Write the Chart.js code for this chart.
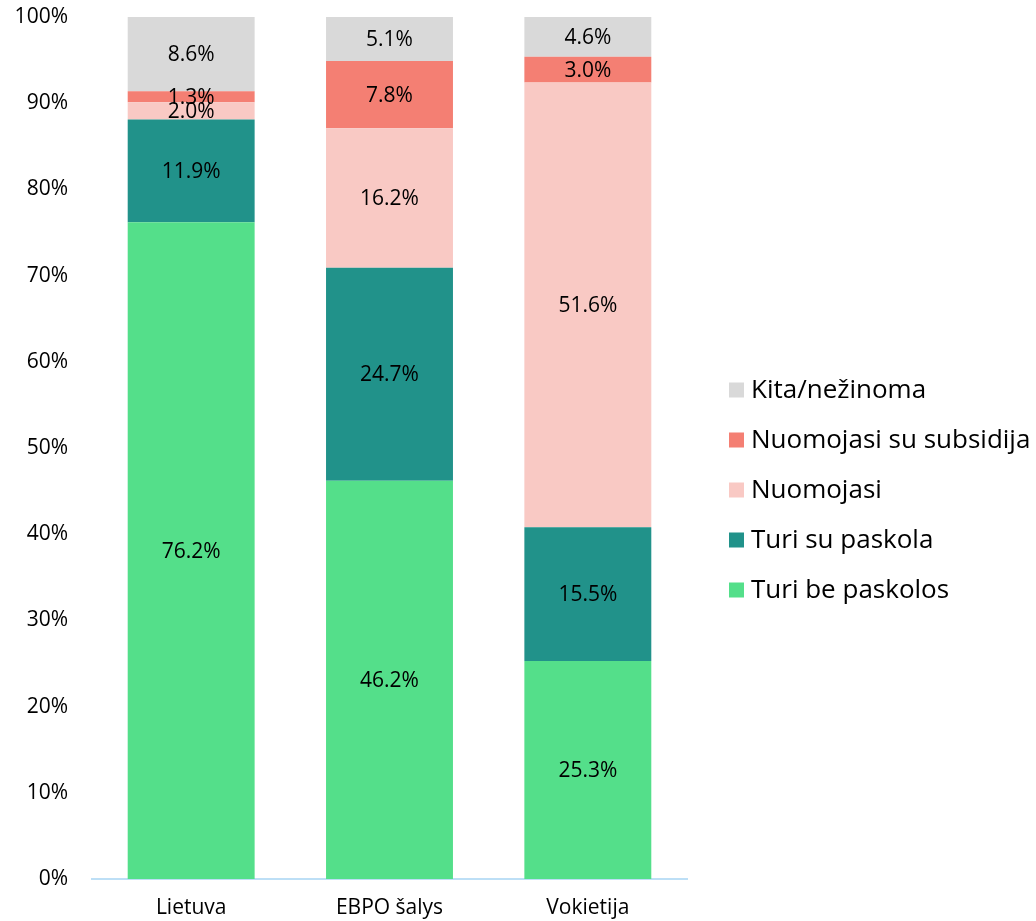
<!DOCTYPE html>
<html>
<head>
<meta charset="utf-8">
<script src="https://cdn.jsdelivr.net/npm/chart.js@4/dist/chart.umd.min.js"></script>
<style>
  html, body { margin: 0; padding: 0; background: #fff; }
  #wrap { width: 1036px; height: 921px; position: relative; }
</style>
</head>
<body>
<div id="wrap"><canvas id="chart"></canvas></div>
<script>
// Kategorijos ir reikšmės (%)
const categories = ['Lietuva', 'EBPO šalys', 'Vokietija'];
const seriesNames = ['Turi be paskolos', 'Turi su paskola', 'Nuomojasi', 'Nuomojasi su subsidija', 'Kita/nežinoma'];
const turiBePaskolos = [76.2, 46.2, 25.3];
const turiSuPaskola = [11.9, 24.7, 15.5];
const nuomojasi = [2.0, 16.2, 51.6];
const nuomojasiSuSubsidija = [1.3, 7.8, 3.0];
const kita = [8.6, 5.1, 4.6];
const colors = ['#54DF8A', '#21928A', '#F9C9C4', '#F47F73', '#D9D9D9'];

const FONT = "'Open Sans', 'Liberation Sans', Arial, sans-serif";
const allData = [turiBePaskolos, turiSuPaskola, nuomojasi, nuomojasiSuSubsidija, kita];

// Užrašai segmentų viduryje
const barLabels = {
  id: 'barLabels',
  afterDatasetsDraw(chart) {
    const ctx = chart.ctx;
    ctx.save();
    ctx.font = '21px ' + FONT;
    ctx.fillStyle = '#000';
    ctx.textAlign = 'center';
    ctx.textBaseline = 'middle';
    chart.data.datasets.forEach((ds, i) => {
      const meta = chart.getDatasetMeta(i);
      meta.data.forEach((bar, j) => {
        const y = (bar.y + bar.base) / 2;
        ctx.fillText(ds.data[j].toFixed(1) + '%', bar.x, y + 1);
      });
    });
    ctx.restore();
  }
};

// Legenda dešinėje (atvirkštine tvarka)
const sideLegend = {
  id: 'sideLegend',
  afterDraw(chart) {
    const ctx = chart.ctx;
    ctx.save();
    ctx.font = '26px ' + FONT;
    ctx.textAlign = 'left';
    ctx.textBaseline = 'middle';
    const n = chart.data.datasets.length;
    const x = chart.chartArea.right + 42;
    const midY = 490;
    for (let k = 0; k < n; k++) {
      const i = n - 1 - k;
      const y = midY + (k - (n - 1) / 2) * 50;
      ctx.fillStyle = colors[i];
      ctx.fillRect(x, y - 7.5, 15, 15);
      ctx.fillStyle = '#000';
      ctx.fillText(chart.data.datasets[i].label, x + 22, y + 1);
    }
    ctx.restore();
  }
};

new Chart(document.getElementById('chart'), {
  type: 'bar',
  data: {
    labels: categories,
    datasets: allData.map((d, i) => ({
      label: seriesNames[i],
      data: d,
      backgroundColor: colors[i],
      borderWidth: 0,
      barPercentage: 0.64,
      categoryPercentage: 1
    }))
  },
  options: {
    responsive: true,
    maintainAspectRatio: false,
    animation: false,
    layout: { padding: { top: 17, left: 0, right: 349, bottom: 0 } },
    plugins: {
      tooltip: { enabled: false },
      legend: { display: false }
    },
    scales: {
      x: {
        stacked: true,
        grid: { display: false, drawTicks: false },
        border: { display: true, color: '#BDDFF6', width: 2 },
        ticks: { color: '#000', font: { size: 21, family: FONT }, padding: 16 },
        afterFit(scale) { scale.height = 42; }
      },
      y: {
        stacked: true,
        min: 0,
        max: 100,
        grid: { display: false, drawTicks: false },
        border: { display: false },
        ticks: {
          stepSize: 10,
          color: '#000',
          padding: 24,
          font: { size: 21, family: FONT },
          callback: v => v + '%'
        },
        afterFit(scale) {
          scale.width = 92;
          scale.paddingTop = 0;
          scale.paddingBottom = 0;
        }
      }
    }
  },
  plugins: [barLabels, sideLegend]
});
</script>
</body>
</html>
